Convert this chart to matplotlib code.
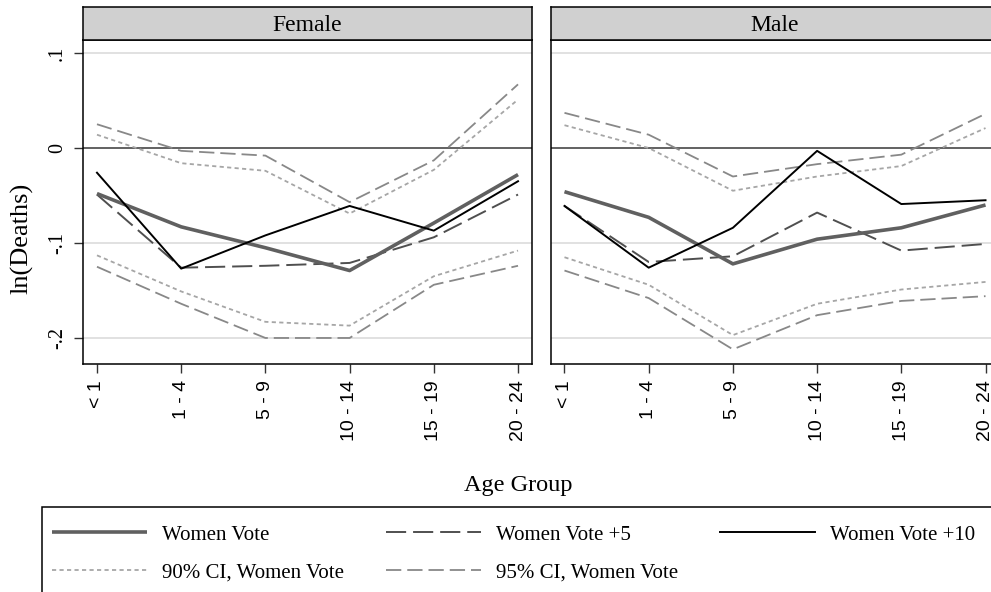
import matplotlib
matplotlib.use("Agg")
import matplotlib.pyplot as plt
from matplotlib.lines import Line2D
from matplotlib.patches import Rectangle

plt.rcParams['font.family'] = ['Liberation Serif', 'DejaVu Serif']
plt.rcParams['lines.scale_dashes'] = False

age_groups = ["< 1", "1 - 4", "5 - 9", "10 - 14", "15 - 19", "20 - 24"]
panels = ["Female", "Male"]

wv_f = [-0.048, -0.083, -0.105, -0.129, -0.079, -0.028]
wv5_f = [-0.049, -0.126, -0.124, -0.121, -0.094, -0.049]
wv10_f = [-0.026, -0.127, -0.092, -0.061, -0.087, -0.035]
ci90_lo_f = [-0.113, -0.151, -0.183, -0.187, -0.135, -0.108]
ci90_hi_f = [0.014, -0.016, -0.024, -0.069, -0.023, 0.051]
ci95_lo_f = [-0.125, -0.164, -0.200, -0.200, -0.144, -0.124]
ci95_hi_f = [0.025, -0.003, -0.008, -0.057, -0.013, 0.067]

wv_m = [-0.046, -0.073, -0.122, -0.096, -0.084, -0.060]
wv5_m = [-0.061, -0.120, -0.114, -0.068, -0.108, -0.101]
wv10_m = [-0.061, -0.126, -0.084, -0.003, -0.059, -0.055]
ci90_lo_m = [-0.115, -0.144, -0.197, -0.164, -0.149, -0.141]
ci90_hi_m = [0.024, 0.000, -0.045, -0.030, -0.019, 0.021]
ci95_lo_m = [-0.129, -0.158, -0.212, -0.176, -0.161, -0.156]
ci95_hi_m = [0.037, 0.014, -0.030, -0.017, -0.007, 0.036]

yticks = [0.1, 0.0, -0.1, -0.2]
ytick_labels = [".1", "0", "-.1", "-.2"]

data = {
    "Female": (wv_f, wv5_f, wv10_f, ci90_lo_f, ci90_hi_f, ci95_lo_f, ci95_hi_f),
    "Male": (wv_m, wv5_m, wv10_m, ci90_lo_m, ci90_hi_m, ci95_lo_m, ci95_hi_m),
}

W, H = 991, 592
fig = plt.figure(figsize=(W / 100, H / 100), dpi=100)

def fx(px):
    return px / W

def fy(py):
    return 1 - py / H

ax_left = [83, 550.5]
ax_w = 449
ax_top, ax_bot = 40, 364
strip_top = 7

st_wv = dict(color="#606060", lw=2.6, solid_capstyle="butt")
st_wv5 = dict(color="#4f4f4f", lw=1.4, dashes=(14.5, 5.0))
st_wv10 = dict(color="#000000", lw=1.4)
st_90 = dict(color="#a6a6a6", lw=1.3, dashes=(3.0, 2.4))
st_95 = dict(color="#888888", lw=1.3, dashes=(11.0, 4.3))

x = list(range(len(age_groups)))
for i, name in enumerate(panels):
    ax = fig.add_axes([fx(ax_left[i]), fy(ax_bot), fx(ax_w), (ax_bot - ax_top) / H])
    wv, wv5, wv10, l90, h90, l95, h95 = data[name]
    for yv in [0.1, -0.1, -0.2]:
        ax.axhline(yv, color="#dcdcdc", lw=1.2, zorder=1)
    ax.axhline(0, color="#555555", lw=1.3, zorder=2)
    ax.plot(x, l95, zorder=3, **st_95)
    ax.plot(x, h95, zorder=3, **st_95)
    ax.plot(x, l90, zorder=3, **st_90)
    ax.plot(x, h90, zorder=3, **st_90)
    ax.plot(x, wv5, zorder=4, **st_wv5)
    ax.plot(x, wv, zorder=5, **st_wv)
    ax.plot(x, wv10, zorder=6, **st_wv10)
    ax.set_xlim(-0.166, 5.166)
    ax.set_ylim(-0.2274, 0.1137)
    ax.set_xticks(x)
    ax.set_xticklabels(age_groups, rotation=90, family=["Liberation Sans", "DejaVu Sans"], fontsize=14)
    ax.tick_params(axis="x", direction="out", length=6.5, width=1.0, color="#333333", pad=5)
    ax.set_yticks(yticks)
    if i == 0:
        ax.set_yticklabels(ytick_labels, rotation=90, va="center", fontsize=14.5)
        ax.tick_params(axis="y", direction="out", length=6.5, width=1.0, color="#333333", pad=5)
    else:
        ax.set_yticklabels([])
        ax.tick_params(axis="y", length=0)
    for s in ax.spines.values():
        s.set_linewidth(1.1)
        s.set_color("black")
    # strip
    sax = fig.add_axes([fx(ax_left[i]), fy(ax_top), fx(ax_w), (ax_top - strip_top) / H])
    sax.set_facecolor("#d0d0d0")
    sax.set_xticks([])
    sax.set_yticks([])
    for s in sax.spines.values():
        s.set_linewidth(1.1)
        s.set_color("black")
    sax.text(0.5, 0.45, name, transform=sax.transAxes, ha="center", va="center", fontsize=17)

fig.text(fx(22), fy(238), "ln(Deaths)", rotation=90, ha="center", va="center", fontsize=19)
fig.text(fx(518), fy(491), "Age Group", ha="center", va="baseline", fontsize=17.5)

handles = [
    Line2D([], [], **st_wv),
    Line2D([], [], **st_90),
    Line2D([], [], **st_wv5),
    Line2D([], [], **st_95),
    Line2D([], [], **st_wv10),
]
labels = ["Women Vote", "90% CI, Women Vote", "Women Vote +5", "95% CI, Women Vote", "Women Vote +10"]
fig.legend(handles, labels, loc="upper left", bbox_to_anchor=(fx(51.7), fy(525)),
           ncol=3, frameon=False, fontsize=15, borderpad=0, borderaxespad=0,
           handlelength=4.57, handletextpad=0.72, columnspacing=2.0, labelspacing=0.88)

fig.add_artist(Rectangle((fx(41.7), fy(610)), fx(1000), (610 - 507.3) / H,
                         transform=fig.transFigure, fill=False, ec="black", lw=1.1, clip_on=False))

fig.savefig("out.png", dpi=100, facecolor="white")
